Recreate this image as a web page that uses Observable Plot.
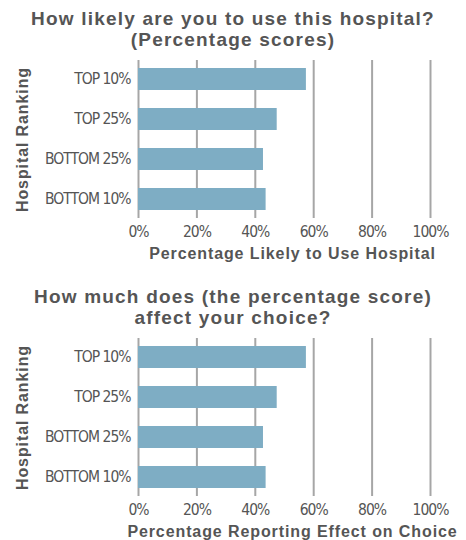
<!DOCTYPE html>
<html>
<head>
<meta charset="utf-8">
<script src="https://cdn.jsdelivr.net/npm/d3@7"></script>
<script src="https://cdn.jsdelivr.net/npm/@observablehq/plot@0.6"></script>
<style>
  body { margin: 0; background: #fff; width: 466px; }
  .chart { position: relative; width: 466px; height: 278px; }
  .title { position: absolute; left: 0; width: 466px; top: 8px; text-align: center;
    font-family: "Liberation Sans", Arial, sans-serif; font-weight: bold; font-size: 19px;
    letter-spacing: 1.2px; line-height: 21px; color: #555; }
  .plot { position: absolute; left: 0; top: 52px; }
</style>
</head>
<body>
<div id="c1" class="chart"><div class="title">How likely are you to use this hospital?<br>(Percentage scores)</div><div class="plot"></div></div>
<div id="c2" class="chart"><div class="title">How much does (the percentage score)<br>affect your choice?</div><div class="plot"></div></div>
<script>
const categories = ["TOP 10%", "TOP 25%", "BOTTOM 25%", "BOTTOM 10%"];
const likelyValues = [57.5, 47.5, 42.8, 43.7];
const effectValues = [57.5, 47.5, 42.8, 43.7];
const xTicks = [0, 20, 40, 60, 80, 100];
const xLabel1 = "Percentage Likely to Use Hospital";
const xLabel2 = "Percentage Reporting Effect on Choice";
const yLabel = "Hospital Ranking";

const tickFont = "'Liberation Sans Narrow', 'DejaVu Sans Condensed', sans-serif";
const boldFont = "'Liberation Sans', Arial, sans-serif";

function makeChart(values, xLabel) {
  const data = categories.map((c, i) => ({cat: c, v: values[i]}));
  return Plot.plot({
    width: 466,
    height: 215,
    marginTop: 8,
    marginBottom: 49,
    marginLeft: 138,
    marginRight: 36,
    style: {fontFamily: tickFont, fontSize: "15.5px", color: "#555", background: "#fff", overflow: "visible"},
    x: {domain: [0, 100], ticks: xTicks, tickFormat: d => d + "%"},
    y: {domain: categories, paddingInner: 0.46, paddingOuter: 0.2},
    marks: [
      Plot.ruleX(xTicks, {stroke: "#a6a6a6", strokeWidth: 2}),
      Plot.barX(data, {x: "v", y: "cat", fill: "#7eadc4"}),
      Plot.axisX({ticks: xTicks, tickFormat: d => d + "%", tickSize: 0, tickPadding: 7, label: null, fontSize: 15.5}),
      Plot.axisY({tickSize: 0, tickPadding: 8, label: null, fontSize: 15.5}),
      Plot.text([xLabel], {text: d => d, frameAnchor: "bottom", dx: 8, dy: 40,
        fontFamily: boldFont, fontWeight: "bold", fontSize: 16, fill: "#555"}),
      Plot.text([yLabel], {text: d => d, frameAnchor: "left", rotate: -90, dx: -116, textAnchor: "middle",
        fontFamily: boldFont, fontWeight: "bold", fontSize: 16, fill: "#555"})
    ]
  });
}

document.querySelector("#c1 .plot").append(makeChart(likelyValues, xLabel1));
document.querySelector("#c2 .plot").append(makeChart(effectValues, xLabel2));
document.querySelectorAll(".plot svg").forEach(svg => {
  svg.querySelectorAll("text").forEach(t => {
    const bold = t.getAttribute("font-weight") === "bold" ||
      (t.parentNode && t.parentNode.getAttribute && t.parentNode.getAttribute("font-weight") === "bold");
    t.style.letterSpacing = bold ? "0.9px" : "-1px";
  });
});
</script>
</body>
</html>
